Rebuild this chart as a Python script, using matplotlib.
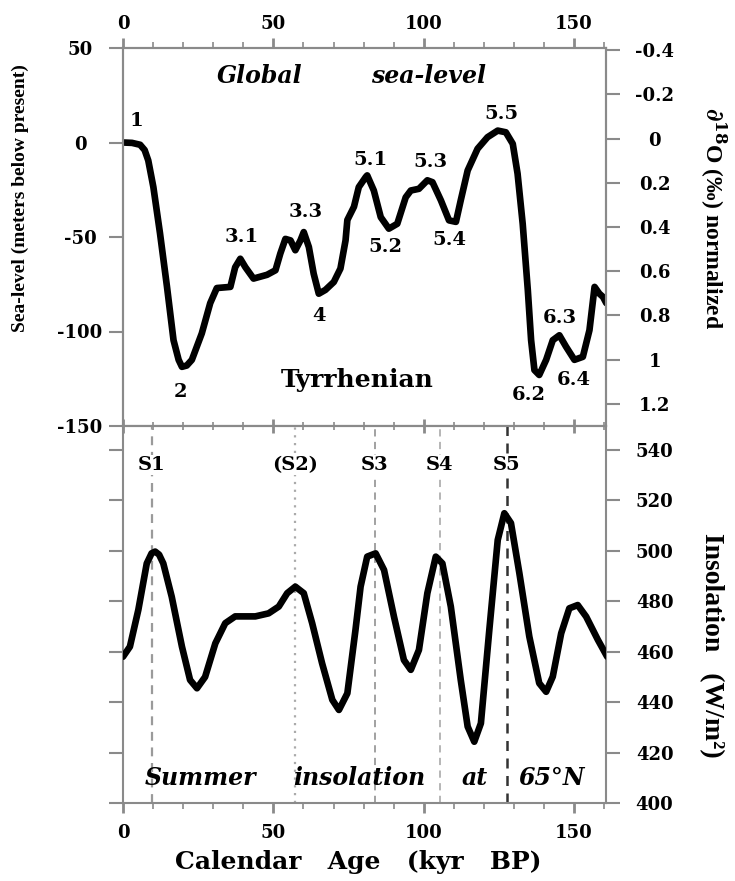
import matplotlib
matplotlib.use("Agg")
import matplotlib.pyplot as plt
from matplotlib.ticker import MultipleLocator, FixedLocator

# ---------------- data ----------------
sl_age = [0, 3, 5.7, 7.2, 8.4, 10.1, 12.3, 14.6, 16.8, 18.5, 19.6, 21.2, 22.9, 26.2, 29, 31.2,
          35.7, 37.3, 39, 40.7, 43.4, 47.9, 50.7, 52.3, 54, 55.7, 57.3, 59, 60.1, 61.8, 63.4,
          65.1, 67.3, 70.1, 72.3, 74, 74.6, 76.8, 78.4, 80.7, 81.2, 83.4, 85.7, 88.4, 91.2,
          94, 95.7, 98.4, 101.2, 102.9, 105.7, 108.4, 110.7, 112.3, 114.6, 117.9, 121.2,
          124.6, 127.3, 129.6, 131.2, 132.9, 134.6, 135.7, 136.8, 138.4, 140.7, 142.9, 145.1,
          147.3, 150.1, 152.9, 155.1, 156.8, 158.4, 159.6, 160.7]
sl_level = [0, -0.2, -1.2, -4, -9.5, -23.6, -48, -76, -104.6, -115, -118.7, -118, -115, -101,
            -85, -77, -76.4, -66, -61.5, -66, -72, -70, -67.6, -58.8, -51, -51.8, -57, -51.8,
            -47.4, -55.3, -69.4, -80, -78, -73.8, -66.7, -51.8, -41, -34, -23.6, -18.3, -17.4,
            -25.4, -39.5, -45.6, -43, -29, -25.4, -24.5, -20, -21, -30.6, -41.2, -42, -30.6,
            -14.8, -3.3, 2.8, 6.3, 5.4, -0.7, -16.5, -43, -78, -104.6, -120.4, -123, -115,
            -104.6, -102, -108, -115, -113.4, -99.3, -76.4, -80, -81.7, -85]

ins_age = [0, 2.3, 5.1, 7.9, 9.5, 10.7, 12, 13.4, 16.2, 19.6, 22.3, 24.6, 27.3, 30.7, 34, 37.3,
           44, 48.4, 51.8, 54.6, 57.3, 60.1, 62.9, 66.2, 69.6, 71.8, 74.6, 77.3, 79, 81.2, 84,
           86.8, 90.1, 93.4, 95.7, 98.4, 101.2, 104, 106.2, 109, 112.3, 114.6, 116.8, 119,
           121.8, 124.6, 126.8, 129, 131.8, 135.1, 138.4, 140.7, 142.9, 145.7, 148.4, 151.2,
           154, 157.9, 161]
ins_val = [458, 462, 476.6, 495, 499, 499.7, 498.5, 495, 481.8, 462, 448.8, 445.5, 450, 463.3,
           471.3, 474, 474, 475.2, 477.9, 483.2, 485.8, 483.2, 471.3, 455.4, 440.9, 436.9,
           443.5, 468.6, 485.8, 497.7, 499, 492.4, 473.9, 456.7, 452.8, 460.7, 483.2, 497.7,
           495, 477.9, 448.8, 430.3, 424.3, 431.6, 468.6, 504.3, 514.9, 511, 491.1, 466, 447.5,
           444.1, 450.1, 467.3, 477.2, 478.5, 473.9, 464.7, 458]

peak_names = ["1", "2", "3.1", "3.3", "4", "5.1", "5.2", "5.3", "5.4", "5.5", "6.2", "6.3", "6.4"]
peak_age = [4.6, 19, 39.6, 60.7, 65.1, 82.3, 87.3, 102.3, 108.4, 125.7, 135, 145.1, 150]
peak_level = [11.6, -132, -50, -36.8, -92, -9.5, -55.3, -10.4, -51.8, 15.2, -133.7, -93, -125.7]

s_names = ["S1", "(S2)", "S3", "S4", "S5"]
s_age = [9.6, 57.3, 83.7, 105.3, 127.6]

x_ticks = [0, 50, 100, 150]
sl_ticks = [-150, -100, -50, 0, 50]
sl_labels = ["-150", "-100", "-50", "0", "50"]
d18_ticks = [-0.4, -0.2, 0, 0.2, 0.4, 0.6, 0.8, 1, 1.2]
d18_labels = ["-0.4", "-0.2", "0", "0.2", "0.4", "0.6", "0.8", "1", "1.2"]
ins_ticks = [400, 420, 440, 460, 480, 500, 520, 540]

# ---------------- style ----------------
plt.rcParams["font.family"] = ["DejaVu Serif"]
plt.rcParams["font.weight"] = "bold"
plt.rcParams["mathtext.fontset"] = "dejavuserif"
GRAY = "#8a8a8a"
TICK_FS = 13

W, H = 735, 881
fig = plt.figure(figsize=(W / 100, H / 100), dpi=100)
L, R = 123, 606
ax1 = fig.add_axes([L / W, 1 - 426 / H, (R - L) / W, 378 / H])
ax2 = fig.add_axes([L / W, 1 - 803 / H, (R - L) / W, 377 / H])

xmax = 160.6
for ax in (ax1, ax2):
    ax.set_xlim(0, xmax)
    for s in ax.spines.values():
        s.set_color(GRAY)
        s.set_linewidth(1.5)

# ---- top panel ----
ax1.plot(sl_age, sl_level, color="black", lw=4.8, solid_joinstyle="round", solid_capstyle="round")
ax1.set_ylim(-150, 50)
ax1.xaxis.tick_top()
ax1.xaxis.set_major_locator(FixedLocator(x_ticks))
ax1.xaxis.set_minor_locator(MultipleLocator(10))
ax1.tick_params(axis="x", which="major", direction="out", length=7, width=2, color=GRAY,
                labelsize=TICK_FS, pad=4, top=True, bottom=False)
ax1.tick_params(axis="x", which="minor", direction="out", length=4, width=1.2, color=GRAY,
                top=True, bottom=False)
ax1.yaxis.set_major_locator(FixedLocator(sl_ticks))
ax1.set_yticklabels(sl_labels)
ax1.tick_params(axis="y", which="major", direction="out", length=10, width=1.5, color=GRAY,
                labelsize=TICK_FS, pad=21, right=False)
for lb in ax1.get_yticklabels():
    lb.set_horizontalalignment("center")

ax1r = ax1.twinx()
ax1r.set_ylim(1.30, -0.41)
for s in ax1r.spines.values():
    s.set_color(GRAY)
    s.set_linewidth(1.5)
ax1r.yaxis.set_major_locator(FixedLocator(d18_ticks))
ax1r.set_yticklabels(d18_labels)
ax1r.tick_params(axis="y", direction="out", length=10, width=1.5, color=GRAY,
                 labelsize=TICK_FS, pad=25)
for lb in ax1r.get_yticklabels():
    lb.set_horizontalalignment("center")

for n, a, v in zip(peak_names, peak_age, peak_level):
    ax1.text(a, v, n, ha="center", va="center", fontsize=14, fontweight="bold")

ax1.text(45.3, 35.4, "Global", ha="center", va="center", fontsize=17,
         fontweight="bold", style="italic")
ax1.text(101.5, 35.4, "sea-level", ha="center", va="center", fontsize=17,
         fontweight="bold", style="italic")
ax1.text(77.8, -125.7, "Tyrrhenian", ha="center", va="center", fontsize=18,
         fontweight="bold")

# ---- bottom panel ----
ax2.set_ylim(400, 549.5)
ax2.plot(ins_age, ins_val, color="black", lw=4.8, solid_joinstyle="round", solid_capstyle="round",
         zorder=3)
s_styles = [dict(color="#9a9a9a", ls=(0, (4, 3)), lw=1.6),
            dict(color="#aaaaaa", ls=(0, (1, 2.5)), lw=1.6),
            dict(color="#9a9a9a", ls=(0, (4, 3)), lw=1.3),
            dict(color="#b0b0b0", ls=(0, (4, 3)), lw=1.3),
            dict(color="#333333", ls=(0, (4, 3)), lw=1.8)]
for n, a, st in zip(s_names, s_age, s_styles):
    ax2.axvline(a, zorder=2, **st)
    ax2.text(a, 534, n, ha="center", va="center", fontsize=14, fontweight="bold",
             bbox=dict(facecolor="white", edgecolor="none", pad=1), zorder=4)

ax2.xaxis.set_major_locator(FixedLocator(x_ticks))
ax2.xaxis.set_minor_locator(MultipleLocator(10))
ax2.tick_params(axis="x", which="major", direction="out", length=7, width=2, color=GRAY,
                labelsize=TICK_FS, pad=8, top=False)
ax2.tick_params(axis="x", which="minor", direction="out", length=4, width=1.2, color=GRAY,
                top=False)
ax2.spines["top"].set_visible(False)
ax2.yaxis.set_major_locator(FixedLocator(ins_ticks))
ax2.tick_params(axis="y", direction="out", length=10, width=1.5, color=GRAY, labelsize=TICK_FS,
                left=True, right=True, labelleft=False, labelright=True, pad=25)
for lb in ax2.get_yticklabels():
    lb.set_horizontalalignment("center")

sec = ax2.secondary_xaxis("top")
sec.xaxis.set_major_locator(FixedLocator(x_ticks))
sec.xaxis.set_minor_locator(MultipleLocator(10))
sec.tick_params(axis="x", which="major", direction="inout", length=10, width=2, color=GRAY,
                labeltop=False)
sec.tick_params(axis="x", which="minor", direction="inout", length=6, width=1.2, color=GRAY)
sec.spines["top"].set_color(GRAY)
sec.spines["top"].set_linewidth(1.5)

for txt, a in zip(["Summer", "insolation", "at", "65°N"], [25.7, 78.7, 116.8, 142.6]):
    ax2.text(a, 410, txt, ha="center", va="center", fontsize=17, fontweight="bold",
             style="italic", zorder=4)

# ---- axis titles ----
fig.text(20 / W, 1 - 198 / H, "Sea-level (meters below present)", rotation=90,
         ha="center", va="center", fontsize=14, fontweight="bold", family="Liberation Serif")
fig.text(713 / W, 1 - 218 / H, r"$\partial^{18}$O (‰) normalized", rotation=-90,
         ha="center", va="center", fontsize=17, fontweight="bold", family="Liberation Serif")
fig.text(711 / W, 1 - 645 / H, "Insolation   (W/m²)", rotation=-90,
         ha="center", va="center", fontsize=20, fontweight="bold", family="Liberation Serif")
fig.text(358 / W, 1 - 862 / H, "Calendar   Age   (kyr   BP)", ha="center", va="center",
         fontsize=18, fontweight="bold")

fig.savefig("out.png", dpi=100)
